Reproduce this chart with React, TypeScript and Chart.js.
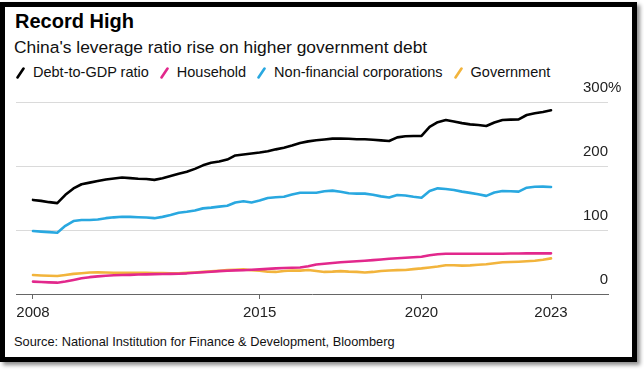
import React, { useEffect, useRef } from "react";
import { Chart, registerables } from "chart.js";

Chart.register(...registerables);

// ---- data ----
const START_YEAR = 2008; // first quarterly observation (Dec 2007 / start of 2008)
const QUARTER_STEP = 0.25;

const DEBT_TO_GDP = [
  147, 145.5, 143.5, 142, 155, 165, 171.5, 174, 176.5, 179, 180.5, 182, 181, 180, 179.7, 178.3,
  181, 184.5, 188, 191, 195.5, 201, 205, 207, 210, 216.5, 218, 219.5, 221, 223, 226, 228.5,
  232, 236, 238.5, 240.3, 241.5, 242.8, 243, 242.5, 241.7, 241.7, 241, 240, 239, 244.7, 246.5, 246.9,
  247, 261, 268.5, 271.9, 269.5, 267, 265, 264, 262.5, 268, 271.9, 272.5, 272.9, 279.7, 282.3, 284.5,
  287,
];
const HOUSEHOLD = [
  19.3, 18.8, 18.2, 17.7, 19.5, 22, 24.5, 26.3, 27.5, 28.6, 29.2, 29.6, 29.9, 30.4, 30.7, 31,
  31.3, 31.5, 31.7, 32.3, 33.2, 33.9, 34.8, 35.8, 36.3, 36.9, 37.2, 37.8, 38.5, 39.2, 40, 40.6,
  41, 41.3, 43.5, 46, 47.2, 48.5, 49.5, 50.3, 51.2, 52, 53, 54, 55, 55.8, 56.7, 57.5,
  58.3, 60.5, 62, 63, 63, 63, 63, 63, 63, 63, 63, 63.2, 63.3, 63.5, 63.5, 63.5,
  63.5,
];
const NON_FINANCIAL = [
  98.4, 97.5, 96.7, 95.8, 106.5, 114, 115.6, 115.6, 116.5, 118.5, 119.8, 120.6, 120.5, 120, 119.5, 118.5,
  120.5, 123.5, 127, 128.5, 130.5, 133.8, 135, 136.5, 137.8, 143, 145, 143, 146, 150, 151.2, 152,
  155.5, 158.3, 158.3, 158.3, 160.5, 161.5, 159.8, 157.5, 156.8, 156.8, 155, 152.5, 150.8, 154.7, 154, 152,
  150.5, 160.9, 165.1, 164, 162.5, 160, 158, 156, 153.3, 158.5, 160.9, 160.5, 159.9, 166.1, 167.5, 167.7,
  167.2,
];
const GOVERNMENT = [
  29.7, 29, 28.5, 28.1, 29.7, 31.5, 32.5, 33.7, 33.8, 33.5, 33.3, 33.3, 33.3, 33.2, 33, 32.8,
  32.6, 32.3, 32.5, 33, 33.7, 34.6, 35.4, 36.4, 37.3, 38, 38.5, 37, 36.5, 34.7, 34.5, 36,
  36.8, 36.5, 37.5, 36, 34.5, 35, 35.8, 35, 34.5, 33.5, 34.5, 36, 36.8, 37.3, 37.5, 38.8,
  40, 41.5, 42.9, 45, 45, 44.3, 44.8, 45.6, 46.4, 48, 49.5, 50, 50.5, 51.2, 52, 53.5,
  55.7,
];

const SERIES_NAMES = ["Debt-to-GDP ratio", "Household", "Non-financial corporations", "Government"];
const SERIES_COLORS = ["#000000", "#e2288c", "#29a8e0", "#f2b43c"];
const SERIES_VALUES = [DEBT_TO_GDP, HOUSEHOLD, NON_FINANCIAL, GOVERNMENT];

const X_TICK_POSITIONS = [2008, 2015, 2020, 2024];
const X_TICK_LABELS = ["2008", "2015", "2020", "2023"];
const Y_TICKS = [0, 100, 200, 300];
const Y_UNIT = "%";

const TITLE = "Record High";
const SUBTITLE = "China's leverage ratio rise on higher government debt";
const SOURCE = "Source: National Institution for Finance & Development, Bloomberg";

const FONT = '"Liberation Sans", Arial, Helvetica, sans-serif';

const X_VALUES = DEBT_TO_GDP.map((_, i) => START_YEAR + i * QUARTER_STEP);

function LegendMark({ color }: { color: string }) {
  return (
    <svg width="9" height="12" style={{ display: "block", marginTop: 2 }}>
      <line x1="1.5" y1="10.5" x2="7.5" y2="1.5" stroke={color} strokeWidth="2.6" strokeLinecap="round" />
    </svg>
  );
}

export default function App() {
  const canvasRef = useRef<HTMLCanvasElement | null>(null);

  useEffect(() => {
    document.body.style.margin = "0";
    const canvas = canvasRef.current;
    if (!canvas) return;

    const unitPlugin = {
      id: "unitPlugin",
      afterDraw(chart: any) {
        const y = chart.scales.y;
        const ctx = chart.ctx;
        const top = Y_TICKS[Y_TICKS.length - 1];
        ctx.save();
        ctx.font = `15px ${FONT}`;
        ctx.fillStyle = "#222";
        ctx.textAlign = "left";
        ctx.textBaseline = "middle";
        ctx.fillText(Y_UNIT, chart.chartArea.right, y.getPixelForValue(top) - 14);
        ctx.restore();
      },
    };

    const chart = new Chart(canvas, {
      type: "line",
      data: {
        datasets: SERIES_VALUES.map((vals, si) => ({
          label: SERIES_NAMES[si],
          data: vals.map((v, i) => ({ x: X_VALUES[i], y: v })),
          borderColor: SERIES_COLORS[si],
          backgroundColor: SERIES_COLORS[si],
          borderWidth: 2.6,
          pointRadius: 0,
          tension: 0,
          borderJoinStyle: "round",
          borderCapStyle: "round",
          order: si,
        })),
      },
      options: {
        animation: false,
        responsive: false,
        layout: { padding: { left: 16, right: 22, top: 22, bottom: 0 } },
        plugins: {
          legend: { display: false },
          tooltip: { enabled: false },
          title: { display: false },
        },
        scales: {
          x: {
            type: "linear",
            min: 2007.475,
            max: 2025.76,
            afterFit: (s: any) => {
              s.height = 36;
            },
            afterBuildTicks: (s: any) => {
              s.ticks = X_TICK_POSITIONS.map((v) => ({ value: v }));
            },
            border: { display: true, color: "#666", width: 1 },
            grid: { drawOnChartArea: false, drawTicks: true, tickLength: 5, color: "#666" },
            ticks: {
              autoSkip: false,
              maxRotation: 0,
              padding: 5,
              color: "#222",
              font: { family: FONT, size: 15 },
              callback: (_v: any, i: number) => X_TICK_LABELS[i],
            },
          },
          y: {
            type: "linear",
            position: "right",
            min: 0,
            max: 300,
            afterFit: (s: any) => {
              s.width = 0;
            },
            afterBuildTicks: (s: any) => {
              s.ticks = Y_TICKS.map((v) => ({ value: v }));
            },
            border: { display: false },
            grid: {
              drawTicks: false,
              color: (c: any) => (c.tick && c.tick.value === 0 ? "rgba(0,0,0,0)" : "#dadada"),
              lineWidth: 1,
            },
            ticks: {
              mirror: true,
              padding: 0,
              labelOffset: -14,
              color: "#222",
              font: { family: FONT, size: 15 },
              callback: (v: any) => String(v),
            },
          },
        },
      },
      plugins: [unitPlugin],
    });

    return () => chart.destroy();
  }, []);

  return (
    <div style={{ position: "relative", width: 644, height: 370, overflow: "hidden", background: "#fff", fontFamily: FONT }}>
      <div
        style={{
          position: "absolute",
          left: 0,
          top: 2,
          width: 637,
          height: 360,
          boxSizing: "border-box",
          border: "5px solid #000",
          background: "#fff",
          boxShadow: "3px 3px 4px rgba(0,0,0,0.45)",
        }}
      />
      <div style={{ position: "absolute", left: 15, top: 11, fontSize: 20, lineHeight: "20px", fontWeight: 700, color: "#000", whiteSpace: "nowrap" }}>
        {TITLE}
      </div>
      <div style={{ position: "absolute", left: 14, top: 39, fontSize: 17.4, lineHeight: "17px", color: "#111", whiteSpace: "nowrap" }}>
        {SUBTITLE}
      </div>
      <div style={{ position: "absolute", left: 16, top: 65, display: "flex", alignItems: "flex-start", whiteSpace: "nowrap" }}>
        {SERIES_NAMES.map((name, i) => (
          <div key={name} style={{ display: "flex", alignItems: "flex-start", marginRight: 11 }}>
            <LegendMark color={SERIES_COLORS[i]} />
            <span style={{ marginLeft: 8, fontSize: 14.5, lineHeight: "14.5px", color: "#111" }}>{name}</span>
          </div>
        ))}
      </div>
      <canvas
        ref={canvasRef}
        width={630}
        height={250}
        style={{ position: "absolute", left: 0, top: 80, width: 630, height: 250 }}
      />
      <div style={{ position: "absolute", left: 14, top: 335, fontSize: 12.8, lineHeight: "13px", color: "#111", whiteSpace: "nowrap" }}>
        {SOURCE}
      </div>
    </div>
  );
}
